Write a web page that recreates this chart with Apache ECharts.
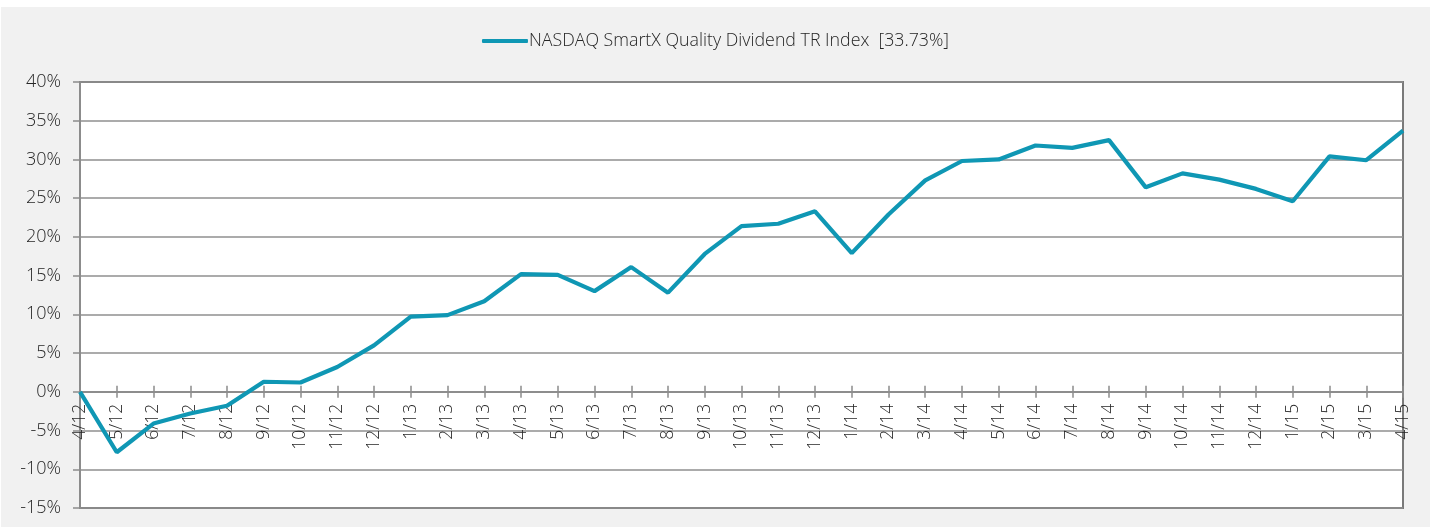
<!DOCTYPE html>
<html>
<head>
<meta charset="utf-8">
<script src="https://cdn.jsdelivr.net/npm/echarts@6/dist/echarts.min.js"></script>
<style>
html,body{margin:0;padding:0;background:#ffffff;}
#chart{position:absolute;left:1px;top:7px;width:1429px;height:520px;}
</style>
</head>
<body>
<div id="chart"></div>
<script>
var categories = ["4/12","5/12","6/12","7/12","8/12","9/12","10/12","11/12","12/12",
  "1/13","2/13","3/13","4/13","5/13","6/13","7/13","8/13","9/13","10/13","11/13","12/13",
  "1/14","2/14","3/14","4/14","5/14","6/14","7/14","8/14","9/14","10/14","11/14","12/14",
  "1/15","2/15","3/15","4/15"];
var seriesName = "NASDAQ SmartX Quality Dividend TR Index  [33.73%]";
var values = [0, -7.8, -4.1, -2.8, -1.8, 1.3, 1.2, 3.2, 6.0,
  9.7, 9.9, 11.7, 15.2, 15.1, 13.0, 16.1, 12.8, 17.8, 21.4, 21.7, 23.3,
  17.9, 22.9, 27.3, 29.8, 30.0, 31.8, 31.5, 32.5, 26.4, 28.2, 27.4, 26.2,
  24.6, 30.4, 29.9, 33.73];
var yMin = -15, yMax = 40, yStep = 5;

var chartH = 520;
var chart = echarts.init(document.getElementById('chart'));
var font = '"Open Sans", Roboto, "Liberation Sans", sans-serif';
var gridRect = {left: 79, top: 75, right: 27, bottom: 19, outerBoundsMode: 'none', containLabel: false};
var axisGray = '#8c8c8c';
var textColor = '#262626';
function hiddenY(idx) {
  return {type: 'value', gridIndex: idx, min: yMin, max: yMax, interval: yStep,
    axisLine: {show: false}, axisTick: {show: false}, axisLabel: {show: false}, splitLine: {show: false}};
}
function buildOption(zeroBottom) {
  return {
    backgroundColor: '#f1f1f1',
    animation: false,
    textStyle: {fontFamily: font},
    legend: {
      top: 20,
      left: 'center',
      icon: 'roundRect',
      itemWidth: 46,
      itemHeight: 4,
      itemGap: 10,
      textStyle: {fontSize: 17.8, color: textColor, fontWeight: 300, fontFamily: font, padding: [0,0,0,-4]},
      data: [seriesName]
    },
    grid: [
      Object.assign({show: true, borderColor: '#7a7a7a', borderWidth: 2, backgroundColor: '#ffffff'}, gridRect),
      {show: false, left: gridRect.left, right: gridRect.right, top: gridRect.top, bottom: zeroBottom, outerBoundsMode: 'none', containLabel: false},
      Object.assign({show: false}, gridRect)
    ],
    xAxis: [{
      type: 'category',
      gridIndex: 0,
      data: categories,
      boundaryGap: false,
      axisLine: {show: false},
      axisTick: {show: false},
      axisLabel: {show: false},
      splitLine: {show: false}
    }, {
      type: 'category',
      gridIndex: 1,
      data: categories,
      boundaryGap: false,
      position: 'bottom',
      axisLine: {show: true, onZero: false, lineStyle: {color: axisGray, width: 1.5}},
      axisTick: {show: true, inside: false, length: 6, lineStyle: {color: axisGray, width: 1.5}, interval: 0},
      axisLabel: {rotate: 90, interval: 0, margin: 12, fontSize: 17.5, color: textColor, fontWeight: 300, fontFamily: font},
      splitLine: {show: false}
    }, {
      type: 'category',
      gridIndex: 2,
      data: categories,
      boundaryGap: false,
      position: 'bottom',
      axisLine: {onZero: true, onZeroAxisIndex: 2, lineStyle: {color: axisGray, width: 1.5}},
      axisTick: {show: true, inside: true, length: 6, lineStyle: {color: axisGray, width: 1.5}, interval: 0},
      axisLabel: {show: false},
      splitLine: {show: false}
    }],
    yAxis: [{
      type: 'value',
      gridIndex: 0,
      min: yMin, max: yMax, interval: yStep,
      axisLine: {show: true, lineStyle: {color: axisGray, width: 2}},
      axisTick: {show: true, length: 7, lineStyle: {color: axisGray, width: 1.5}},
      axisLabel: {margin: 19, fontSize: 18, color: textColor, fontWeight: 300, fontFamily: font, formatter: '{value}%'},
      splitLine: {show: true, lineStyle: {color: '#8f8f8f', width: 1.5}}
    }, {type: 'value', gridIndex: 1, min: 0, max: 1, show: false}, hiddenY(2)],
    series: [{
      name: seriesName,
      type: 'line',
      data: values,
      xAxisIndex: 0,
      yAxisIndex: 0,
      symbol: 'none',
      lineStyle: {color: '#0f97b4', width: 4.2},
      itemStyle: {color: '#0f97b4'},
      z: 5
    }]
  };
}
chart.setOption(buildOption(gridRect.bottom));
var zeroY = chart.convertToPixel({xAxisIndex: 0, yAxisIndex: 0}, [0, 0])[1];
chart.setOption(buildOption(chartH - zeroY), true);
</script>
</body>
</html>
